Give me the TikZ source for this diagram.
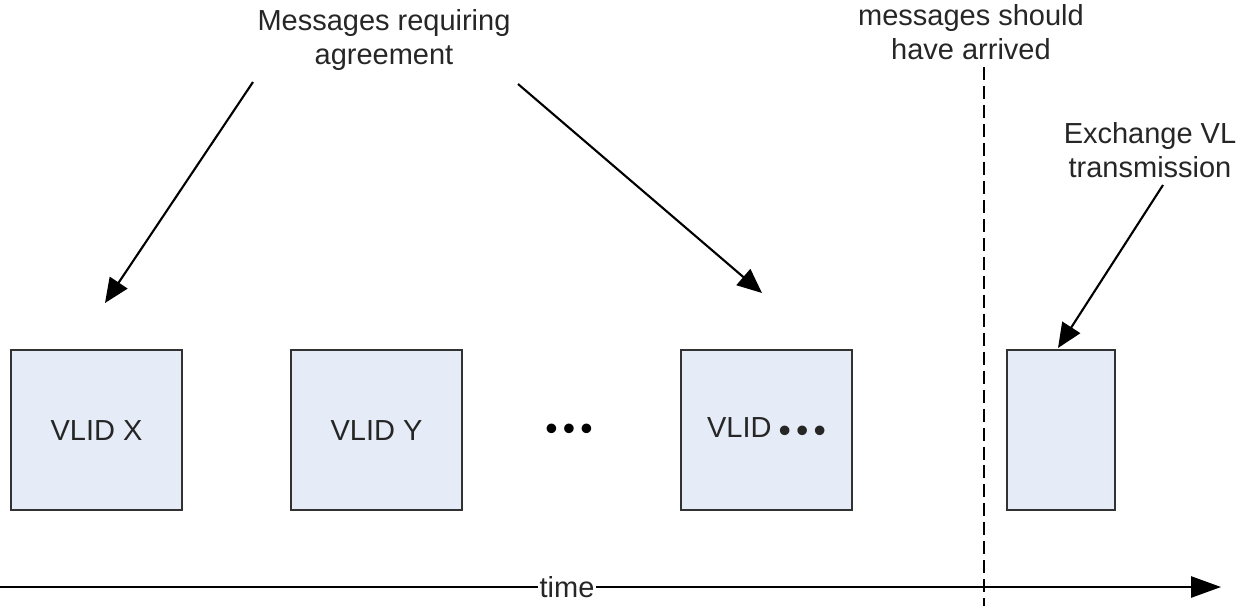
\documentclass[tikz,border=0pt]{standalone}
\usepackage{fontspec}
\setmainfont{Liberation Sans}
\usetikzlibrary{arrows.meta}
\definecolor{boxfill}{RGB}{230,236,247}
\definecolor{boxline}{RGB}{50,50,50}
\newcommand{\ellipsisdots}{{\fontsize{20}{20}\selectfont •\hspace{3pt}•\hspace{3pt}•}}
\begin{document}
\begin{tikzpicture}[x=0.02cm,y=-0.02cm,
  lbl/.style={align=center,inner sep=0pt,font=\fontsize{16.5}{19}\selectfont,text=black!85},
  vlid/.style={draw=boxline,fill=boxfill,line width=1.2pt,minimum width=171*0.02cm,minimum height=160*0.02cm,inner sep=0pt,font=\fontsize{16.5}{19}\selectfont,text=black!85},
  ptr/.style={line width=1.2pt,-{Triangle[length=14pt,width=12pt]}},
  dots/.style={inner sep=0pt}]
\useasboundingbox (0,0) rectangle (1250,606);

% time axis with the label sitting on the line
\coordinate (t0) at (0,587);
\coordinate (t1) at (1221,587);
\draw[line width=1.2pt,-{Triangle[length=17pt,width=12pt]}] (t0) -- (t1);
\node[lbl,fill=white,inner xsep=1pt] (time) at (567,587) {time};

% deadline marker
\coordinate (d0) at (984,67);
\coordinate (d1) at (984,606);
\draw[line width=1pt,dash pattern=on 7.4pt off 3.4pt] (d0) -- (d1);
\node[lbl] (deadline) at (971,32) {messages should\\have arrived};

% VL slots
\node[vlid,anchor=north west] (x) at (10,349) {VLID X};
\node[vlid,anchor=north west] (y) at (290,349) {VLID Y};
\node[dots] (gap) at (569,432) {\ellipsisdots};
\node[vlid,anchor=north west] (z) at (680,349) {VLID\hspace{4pt}\raisebox{-3pt}{\ellipsisdots}};
\node[vlid,anchor=north west,minimum width=108*0.02cm] (ex) at (1006,349) {};

% annotations
\node[lbl] (agree) at (384,40) {Messages requiring\\agreement};
\node[lbl] (exch) at (1150,150) {Exchange VL\\transmission};

\coordinate (a0) at (253,82);
\coordinate (a1) at (105,303);
\coordinate (b0) at (518,84);
\coordinate (b1) at (762,293);
\coordinate (c0) at (1163,185);
\coordinate (c1) at (1058,348);
\draw[ptr] (a0) -- (a1);
\draw[ptr] (b0) -- (b1);
\draw[ptr] (c0) -- (c1);
\end{tikzpicture}
\end{document}
